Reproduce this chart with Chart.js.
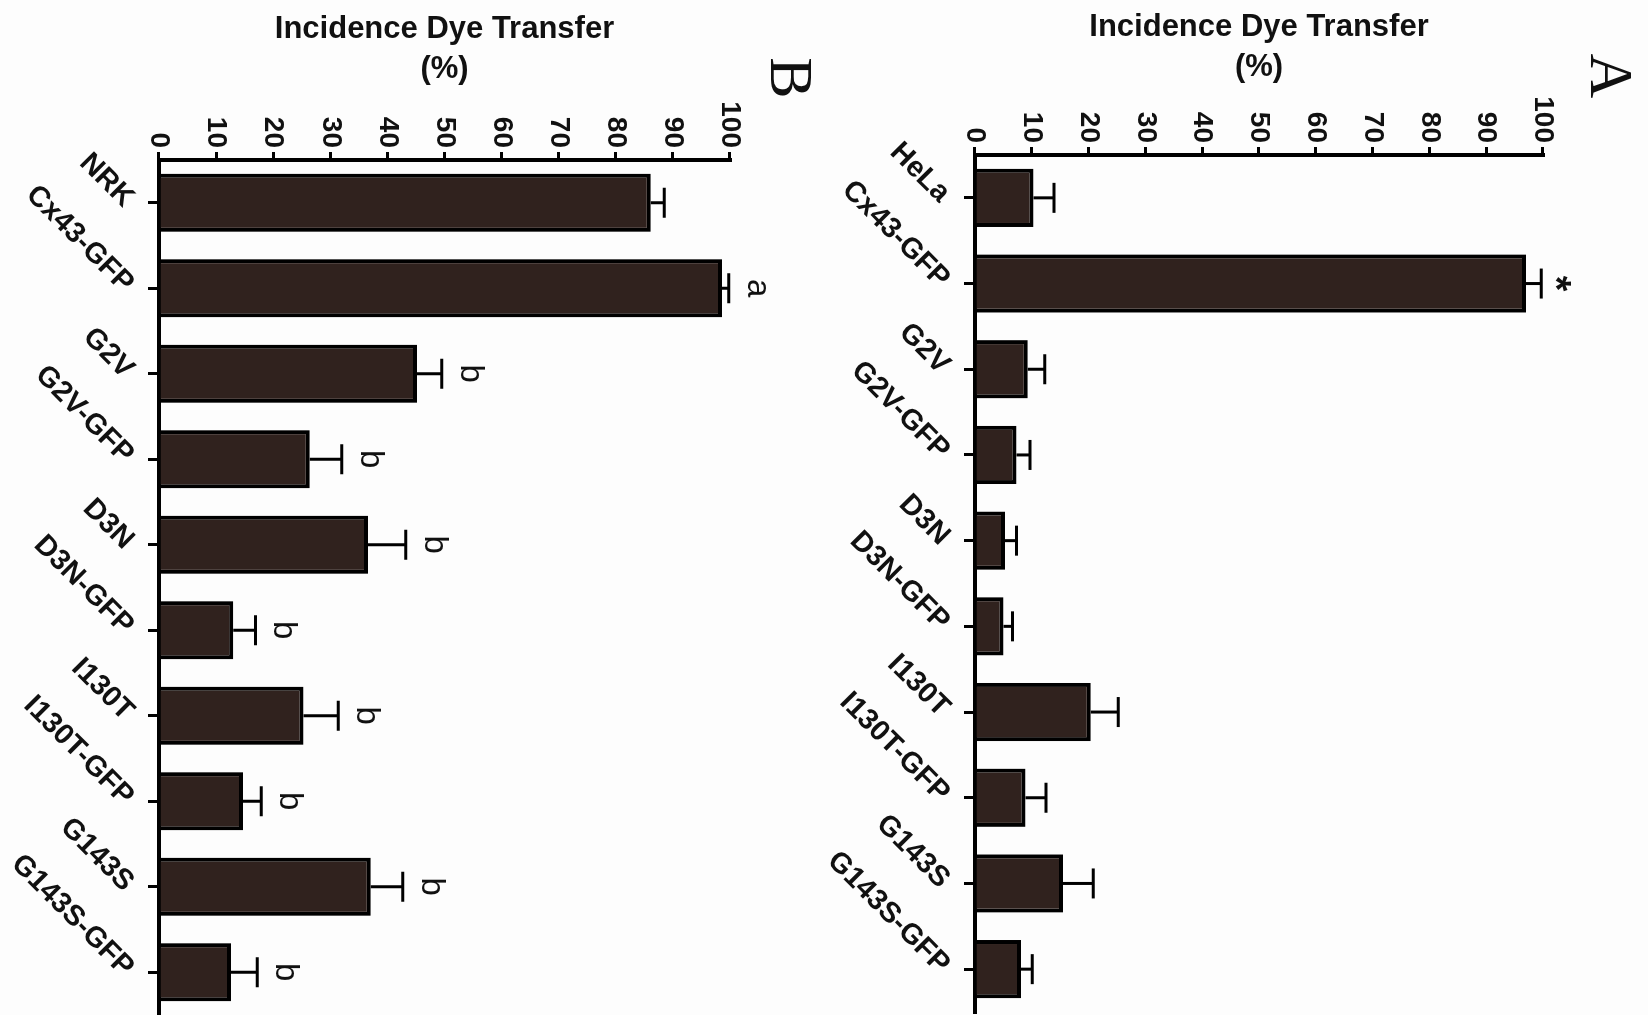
<!DOCTYPE html>
<html>
<head>
<meta charset="utf-8">
<title>Incidence Dye Transfer</title>
<script src="https://cdn.jsdelivr.net/npm/chart.js@4.4.1/dist/chart.umd.min.js"></script>
<style>
  html, body { margin: 0; padding: 0; width: 1648px; height: 1015px; overflow: hidden; background: #fdfdfd; }
  /* The figure is laid out upright and the whole page is turned a quarter clockwise */
  #page { position: absolute; left: 0; top: 0; width: 1015px; height: 1648px;
          transform-origin: 0 0; transform: translate(1648px, 0) rotate(90deg); }
  #page canvas { position: absolute; left: 0; }
  #chartA { top: 0; }
  #chartB { top: 845px; }
  .panel { position: absolute; font-family: 'Liberation Serif', 'Times New Roman', serif;
           font-size: 62px; line-height: 1; color: #111; transform: translate(-50%, -50%); }
</style>
</head>
<body>
<div id="page">
  <canvas id="chartA" width="1015" height="845"></canvas>
  <canvas id="chartB" width="1015" height="803"></canvas>
  <div class="panel" style="left:76px; top:36px;">A</div>
  <div class="panel" style="left:78px; top:856px;">B</div>
</div>
<script>
// Panel A: HeLa cells
const categoriesA = ['HeLa', 'Cx43-GFP', 'G2V', 'G2V-GFP', 'D3N', 'D3N-GFP', 'I130T', 'I130T-GFP', 'G143S', 'G143S-GFP'];
const transferA   = [10.3, 97.0, 9.3, 7.3, 5.3, 5.0, 20.4, 8.9, 15.5, 8.1];
const semA        = [3.6, 2.7, 3.0, 2.4, 2.0, 1.6, 4.8, 3.6, 5.3, 2.0];
const marksA      = ['', '*', '', '', '', '', '', '', '', ''];

// Panel B: NRK cells
const categoriesB = ['NRK', 'Cx43-GFP', 'G2V', 'G2V-GFP', 'D3N', 'D3N-GFP', 'I130T', 'I130T-GFP', 'G143S', 'G143S-GFP'];
const transferB   = [86.1, 98.6, 45.2, 26.4, 36.6, 13.0, 25.3, 14.7, 37.1, 12.6];
const semB        = [2.4, 1.2, 4.3, 5.6, 6.6, 3.9, 6.1, 3.2, 5.6, 4.6];
const marksB      = ['', 'a', 'b', 'b', 'b', 'b', 'b', 'b', 'b', 'b'];

// Value axis
const axisMin = 0, axisMax = 100, axisStep = 10;
const axisTitle = ['Incidence Dye Transfer', '(%)'];

const SANS = "'Liberation Sans', Arial, Helvetica, sans-serif";
const INK = '#111';
const BAR_FILL = '#30221e';
const CAP = 30;

Chart.defaults.font.family = SANS;
Chart.defaults.color = INK;

// Upper error whiskers and significance letters above each bar
function whiskers(errs, marks) {
  return {
    id: 'whiskers',
    afterDatasetsDraw(chart) {
      const ctx = chart.ctx;
      const yScale = chart.scales.y;
      const values = chart.data.datasets[0].data;
      const meta = chart.getDatasetMeta(0);
      ctx.save();
      ctx.strokeStyle = '#000';
      ctx.lineWidth = 3;
      ctx.lineCap = 'butt';
      meta.data.forEach((bar, i) => {
        const top = yScale.getPixelForValue(values[i] + errs[i]);
        ctx.beginPath();
        ctx.moveTo(bar.x, bar.y);
        ctx.lineTo(bar.x, top);
        ctx.moveTo(bar.x - CAP / 2, top);
        ctx.lineTo(bar.x + CAP / 2, top);
        ctx.stroke();
        const m = marks[i];
        if (m) {
          ctx.fillStyle = INK;
          ctx.textAlign = 'center';
          ctx.textBaseline = 'alphabetic';
          ctx.font = m === '*' ? 'bold 40px ' + SANS : '33px ' + SANS;
          const desc = ctx.measureText(m).actualBoundingBoxDescent || 0;
          const gap = m === '*' ? 14 : 19;
          ctx.fillText(m, bar.x, top - gap - desc);
        }
      });
      ctx.restore();
    }
  };
}

function makeChart(id, labels, values, errs, marks, g) {
  return new Chart(document.getElementById(id), {
    type: 'bar',
    data: {
      labels: labels,
      datasets: [{
        data: values,
        backgroundColor: BAR_FILL,
        borderColor: '#000',
        borderWidth: 4,
        borderSkipped: 'start',
        barPercentage: 0.68,
        categoryPercentage: 1
      }]
    },
    options: {
      responsive: false,
      animation: false,
      devicePixelRatio: 1,
      layout: { autoPadding: false, padding: { left: 0, right: g.right, top: g.top, bottom: 0 } },
      plugins: { legend: { display: false }, tooltip: { enabled: false } },
      scales: {
        x: {
          type: 'category',
          offset: true,
          grid: { display: true, drawOnChartArea: false, drawTicks: true, offset: false,
                  tickLength: 11, tickWidth: 3, lineWidth: 3, color: '#000' },
          border: { display: true, width: 4, color: '#000' },
          ticks: { minRotation: 45, maxRotation: 45, padding: 7, color: INK,
                   font: { size: 29, weight: 'bold' } },
          afterFit(s) { s.height = g.xHeight; s.paddingLeft = 0; s.paddingRight = 0; }
        },
        y: {
          min: axisMin,
          max: axisMax,
          grid: { display: true, drawOnChartArea: false, drawTicks: true,
                  tickLength: 8, tickWidth: 3, lineWidth: 3, color: '#000' },
          border: { display: true, width: 4, color: '#000' },
          ticks: { stepSize: axisStep, padding: 4, color: INK, font: { size: 28, weight: 'bold' } },
          title: { display: true, text: axisTitle, color: INK,
                   font: { size: 31, weight: 'bold', lineHeight: 40 / 31 },
                   padding: { top: g.titlePad, bottom: 0 } },
          afterFit(s) { s.width = g.yWidth; s.paddingTop = 0; s.paddingBottom = 0; }
        }
      }
    },
    plugins: [whiskers(errs, marks)]
  });
}

makeChart('chartA', categoriesA, transferA, semA, marksA,
          { top: 105, right: 3, xHeight: 172, yWidth: 155, titlePad: 7 });
makeChart('chartB', categoriesB, transferB, semB, marksB,
          { top: 73, right: 0, xHeight: 159, yWidth: 160, titlePad: 9 });
</script>
</body>
</html>
